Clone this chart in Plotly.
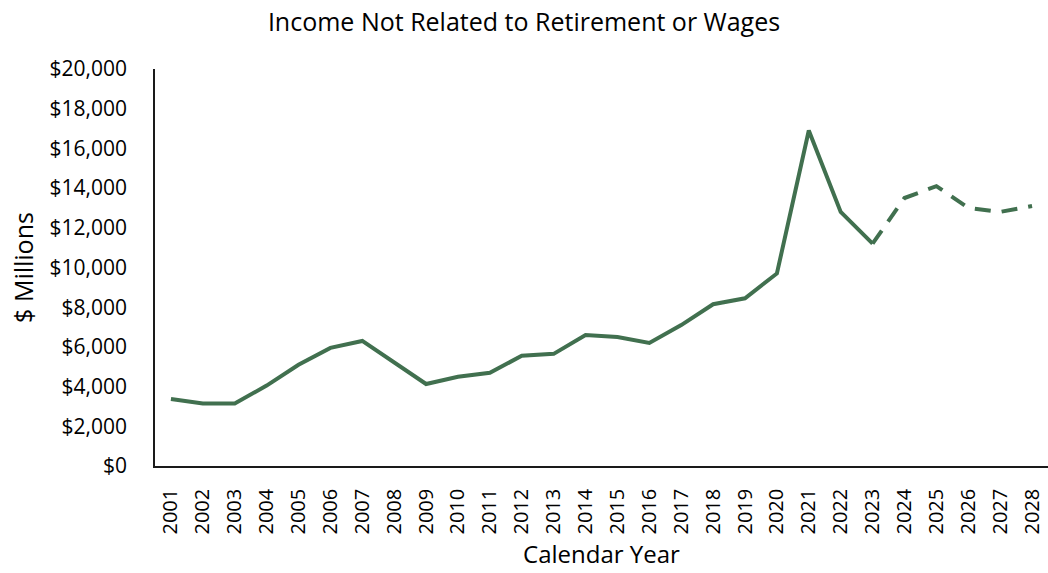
import plotly.graph_objects as go

years = [str(y) for y in range(2001, 2029)]
actual_years = years[:23]          # 2001-2023
forecast_years = years[22:]        # 2023-2028
actual_values = [3375, 3150, 3150, 4050, 5100, 5950, 6300, 5200, 4130, 4500,
                 4700, 5550, 5650, 6600, 6500, 6200, 7100, 8150, 8450, 9700,
                 16900, 12800, 11200]
forecast_values = [11200, 13500, 14100, 13000, 12800, 13100]
y_ticks = list(range(0, 20001, 2000))

line_color = "#41704F"
font_family = "Open Sans, Liberation Sans, sans-serif"

fig = go.Figure()
fig.add_trace(go.Scatter(x=actual_years, y=actual_values, mode="lines",
                         line=dict(color=line_color, width=4),
                         showlegend=False))
fig.add_trace(go.Scatter(x=forecast_years, y=forecast_values, mode="lines",
                         line=dict(color=line_color, width=4, dash="16px,11px"),
                         showlegend=False))

fig.update_layout(
    width=1048, height=573,
    margin=dict(l=155, r=0, t=69, b=107),
    paper_bgcolor="white", plot_bgcolor="white",
    font=dict(family=font_family, color="#000000"),
    title=dict(text="Income Not Related to Retirement or Wages",
               x=0.5, xanchor="center", xref="container",
               y=0.962, yanchor="middle", yref="container",
               font=dict(size=25, color="#000000")),
)
fig.update_xaxes(
    type="category", categoryorder="array", categoryarray=years,
    range=[-0.5, 27.5],
    tickangle=-90, tickfont=dict(size=20),
    ticks="outside", ticklen=13, tickcolor="rgba(0,0,0,0)",
    showline=True, linecolor="#1a1a1a", linewidth=1.5,
    showgrid=False, zeroline=False,
    title=dict(text="Calendar Year", font=dict(size=24), standoff=13),
)
fig.update_yaxes(
    range=[0, 20000], tickvals=y_ticks,
    ticktext=[f"${v:,}" for v in y_ticks],
    tickfont=dict(size=21),
    ticks="outside", ticklen=22, tickcolor="rgba(0,0,0,0)",
    showline=True, linecolor="#1a1a1a", linewidth=1.5,
    showgrid=False, zeroline=False,
    title=dict(text="$ Millions", font=dict(size=25), standoff=9),
)

fig.write_html("out.html")
